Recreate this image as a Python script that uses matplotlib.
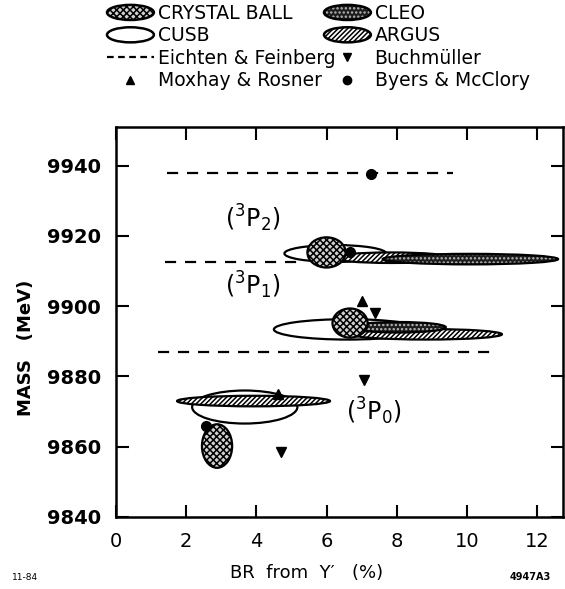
import matplotlib
matplotlib.use("Agg")
import matplotlib.pyplot as plt
from matplotlib.patches import Ellipse, Patch
from matplotlib.lines import Line2D
from matplotlib.legend_handler import HandlerPatch

plt.rcParams["hatch.linewidth"] = 1.1

# measurements: centre x (BR %), centre y (MeV), full width, full height
# order of states: 3P2, 3P1, 3P0
cb_x = [6.0, 6.67, 2.88]
cb_y = [9915.3, 9895.2, 9860.2]
cb_w = [1.09, 1.0, 0.86]
cb_h = [8.6, 8.3, 12.4]

cusb_x = [6.25, 6.6, 3.67]
cusb_y = [9915.0, 9893.4, 9871.3]
cusb_w = [2.9, 4.2, 3.0]
cusb_h = [4.8, 5.8, 9.4]

argus_x = [7.85, 8.85, 3.92]
argus_y = [9913.8, 9892.0, 9873.0]
argus_w = [3.4, 4.3, 4.36]
argus_h = [3.0, 3.0, 3.0]

cleo_x = [10.1, 8.05]
cleo_y = [9913.4, 9894.0]
cleo_w = [5.0, 2.7]
cleo_h = [3.0, 3.0]

# Eichten & Feinberg predictions (dashed)
ef_mass = [9938, 9912.5, 9887]
ef_xmin = [1.45, 1.4, 1.2]
ef_xmax = [9.6, 5.3, 10.7]

moxhay_x = [7.0, 4.63]
moxhay_y = [9901.6, 9875.0]

buch_x = [7.37, 7.06, 4.71]
buch_y = [9898.0, 9879.0, 9858.6]

byers_x = [7.26, 6.66, 2.57]
byers_y = [9937.7, 9915.5, 9865.8]

state_labels = [r"$(^{3}\mathrm{P}_{2})$", r"$(^{3}\mathrm{P}_{1})$", r"$(^{3}\mathrm{P}_{0})$"]
state_lx = [3.9, 3.9, 7.35]
state_ly = [9925, 9906, 9870]

styles = {
    "CRYSTAL BALL": dict(fc="#d0d0d0", hatch="xxxxx", hc="black"),
    "CLEO": dict(fc="#1c1c1c", hatch="....", hc="#bbbbbb"),
    "CUSB": dict(fc="white", hatch=None, hc="black"),
    "ARGUS": dict(fc="white", hatch="///////", hc="black"),
}


def blob(ax, x, y, w, h, name, z):
    st = styles[name]
    ax.add_patch(Ellipse((x, y), w, h, facecolor=st["fc"], hatch=st["hatch"],
                         edgecolor=st["hc"], linewidth=0, zorder=z))
    ax.add_patch(Ellipse((x, y), w, h, facecolor="none", edgecolor="black",
                         linewidth=1.6, zorder=z + 0.1))


class HandlerEllipse(HandlerPatch):
    def create_artists(self, legend, orig_handle, xdescent, ydescent,
                       width, height, fontsize, trans):
        st = styles[orig_handle.get_label()]
        c = (0.5 * width - xdescent, 0.5 * height - ydescent)
        e1 = Ellipse(c, width, height * 1.15, facecolor=st["fc"], hatch=st["hatch"],
                     edgecolor=st["hc"], linewidth=0, transform=trans)
        e2 = Ellipse(c, width, height * 1.15, facecolor="none", edgecolor="black",
                     linewidth=1.8, transform=trans)
        return [e1, e2]


fig = plt.figure(figsize=(5.65, 5.89), dpi=100)
ax = fig.add_axes([116 / 565, 1 - 517 / 589, (563 - 116) / 565, (517 - 127) / 589])

for i in range(len(ef_mass)):
    ax.plot([ef_xmin[i], ef_xmax[i]], [ef_mass[i], ef_mass[i]], color="black",
            linestyle=(0, (5, 4)), linewidth=1.6, zorder=1)

for i in range(3):
    blob(ax, cusb_x[i], cusb_y[i], cusb_w[i], cusb_h[i], "CUSB", 2)
    blob(ax, argus_x[i], argus_y[i], argus_w[i], argus_h[i], "ARGUS", 3)
for i in range(2):
    blob(ax, cleo_x[i], cleo_y[i], cleo_w[i], cleo_h[i], "CLEO", 4)
for i in range(3):
    blob(ax, cb_x[i], cb_y[i], cb_w[i], cb_h[i], "CRYSTAL BALL", 5)

ax.plot(moxhay_x, moxhay_y, "^", color="black", markersize=7, zorder=7)
ax.plot(buch_x, buch_y, "v", color="black", markersize=7, zorder=7)
ax.plot(byers_x, byers_y, "o", color="black", markersize=7, zorder=7)

for i in range(3):
    ax.text(state_lx[i], state_ly[i], state_labels[i], fontsize=17,
            ha="center", va="center")

ax.set_xlim(0, 12.74)
ax.set_ylim(9840, 9951)
ax.set_xticks([0, 2, 4, 6, 8, 10, 12])
ax.set_yticks([9840, 9860, 9880, 9900, 9920, 9940])
ax.tick_params(direction="in", length=9, width=1.5, top=True, right=True,
               labelsize=14, pad=11)
for s in ax.spines.values():
    s.set_linewidth(1.8)
for lab in ax.get_yticklabels():
    lab.set_fontweight("bold")

fig.text(307 / 565, 1 - 573 / 589, "BR  from  \u03a5\u2032   (%)", fontsize=13,
         ha="center", va="center")
fig.text(26 / 565, 1 - 348 / 589, "MASS   (MeV)", fontsize=13, fontweight="bold",
         rotation=90, ha="center", va="center")
fig.text(25 / 565, 1 - 577 / 589, "11-84", fontsize=6.5, ha="center", va="center")
fig.text(530 / 565, 1 - 577 / 589, "4947A3", fontsize=7, fontweight="bold",
         ha="center", va="center")

col1 = [Patch(label="CRYSTAL BALL"), Patch(label="CUSB"),
        Line2D([], [], color="black", linestyle=(0, (3, 2)), linewidth=1.6,
               label="Eichten & Feinberg"),
        Line2D([], [], color="black", marker="^", linestyle="none", markersize=6,
               label="Moxhay & Rosner")]
col2 = [Patch(label="CLEO"), Patch(label="ARGUS"),
        Line2D([], [], color="black", marker="v", linestyle="none", markersize=6,
               label="Buchm\u00fcller"),
        Line2D([], [], color="black", marker="o", linestyle="none", markersize=6,
               label="Byers & McClory")]

leg_kw = dict(frameon=False, fontsize=13.5, handlelength=2.5, handletextpad=0.2,
              labelspacing=0.18, borderpad=0, borderaxespad=0, loc="upper left",
              handler_map={Patch: HandlerEllipse()})
leg1 = fig.legend(handles=col1, bbox_to_anchor=(107 / 565, 1 - 4 / 589), **leg_kw)
leg2 = fig.legend(handles=col2, bbox_to_anchor=(324 / 565, 1 - 4 / 589), **leg_kw)

fig.savefig("out.png", dpi=100)
